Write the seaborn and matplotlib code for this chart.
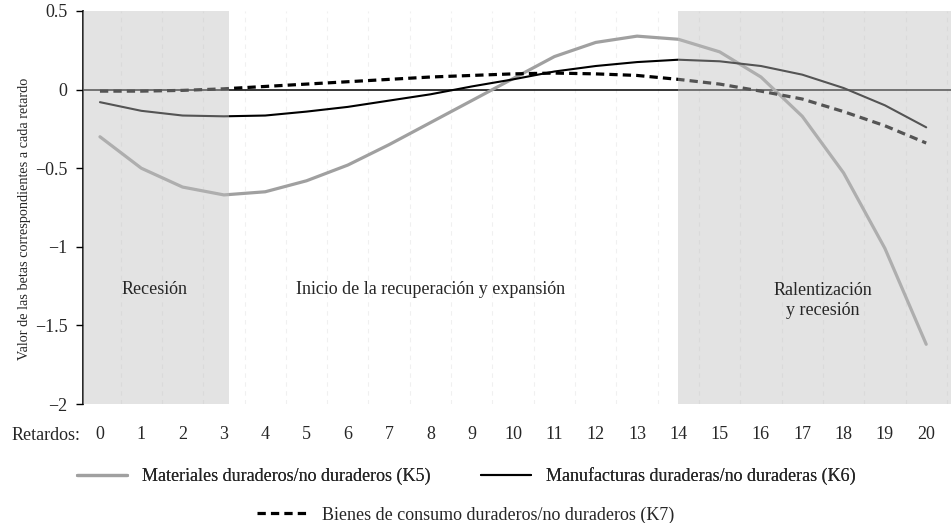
import numpy as np
import pandas as pd
import matplotlib
matplotlib.use("Agg")
import matplotlib.pyplot as plt
import seaborn as sns

# data
lags = list(range(21))
k5 = [-0.30, -0.50, -0.62, -0.67, -0.65, -0.58, -0.48, -0.35, -0.21, -0.07,
      0.07, 0.21, 0.30, 0.34, 0.32, 0.24, 0.08, -0.17, -0.53, -1.01, -1.62]
k6 = [-0.08, -0.135, -0.165, -0.17, -0.165, -0.14, -0.11, -0.07, -0.03, 0.02,
      0.065, 0.115, 0.15, 0.175, 0.19, 0.18, 0.15, 0.095, 0.01, -0.10, -0.24]
k7 = [-0.01, -0.01, -0.005, 0.005, 0.02, 0.035, 0.05, 0.065, 0.08, 0.09,
      0.10, 0.105, 0.10, 0.09, 0.065, 0.035, -0.01, -0.06, -0.14, -0.23, -0.34]
series_names = ["Materiales duraderos/no duraderos (K5)",
                "Manufacturas duraderas/no duraderas (K6)",
                "Bienes de consumo duraderos/no duraderos (K7)"]
y_ticks = [0.5, 0, -0.5, -1, -1.5, -2]
y_ticklabels = ["0.5", "0", "\u22120.5", "\u22121", "\u22121.5", "\u22122"]
phases = ["Recesión", "Inicio de la recuperación y expansión", "Ralentización\ny recesión"]

sns.set_style("white")
plt.rcParams["font.family"] = ["Liberation Serif", "DejaVu Serif"]
FS = 13

fig = plt.figure(figsize=(9.51, 5.23), dpi=100)
ax = fig.add_axes([0.0873, 0.2275, 0.9127, 0.7515])

xmin, xmax = -0.41, 20.6
ax.set_xlim(xmin, xmax)
ax.set_ylim(-2, 0.5)

# light dashed vertical grid between lags
for g in np.arange(0.5, 20.6, 1.0):
    ax.axvline(g, color="#f0f0f0", lw=0.8, ls=(0, (4, 4)), zorder=0)

ax.axhline(0, color="black", lw=1.1, zorder=1)

sns.lineplot(x=lags, y=k5, ax=ax, color="#a0a0a0", lw=2.3, label=series_names[0], zorder=3)
sns.lineplot(x=lags, y=k6, ax=ax, color="black", lw=1.5, label=series_names[1], zorder=3)
sns.lineplot(x=lags, y=k7, ax=ax, color="black", lw=2.3, label=series_names[2], zorder=3)
ax.lines[-1].set_dashes((2.6, 1.6))
handles = ax.get_lines()[-3:]
ax.get_legend().remove()

# phase shading drawn on top (translucent)
ax.axvspan(xmin, 3.12, color="#c0c0c0", alpha=0.44, lw=0, zorder=5)
ax.axvspan(14, xmax, color="#c0c0c0", alpha=0.44, lw=0, zorder=5)

ax.text(1.33, -1.27, phases[0], ha="center", va="center", fontsize=FS, zorder=6)
ax.text(8.0, -1.27, phases[1], ha="center", va="center", fontsize=FS, zorder=6)
ax.text(17.5, -1.34, phases[2], ha="center", va="center", fontsize=FS, zorder=6,
        linespacing=1.2)

ax.set_yticks(y_ticks)
ax.set_yticklabels(y_ticklabels, fontsize=FS)
ax.set_xticks(lags)
ax.set_xticklabels([str(l) for l in lags], fontsize=FS)
ax.tick_params(axis="x", length=0, pad=16)
ax.tick_params(axis="y", length=5, width=1, direction="out", color="black", pad=6, left=True)

for s in ["top", "right", "bottom"]:
    ax.spines[s].set_visible(False)
ax.spines["left"].set_color("black")
ax.spines["left"].set_linewidth(1.2)

ax.set_ylabel("Valor de las betas correspondientes a cada retardo", fontsize=10.3)
ax.yaxis.set_label_coords(-0.06, 0.47)
fig.text(0.012, 1 - 435 / 523, "Retardos:", va="center", ha="left", fontsize=FS)

leg1 = fig.legend(handles[:2], series_names[:2], loc="center", ncol=2,
                  bbox_to_anchor=(0.49, 1 - 476 / 523), frameon=False, fontsize=FS,
                  handlelength=2.8, columnspacing=2.8, handletextpad=0.8)
fig.add_artist(leg1)
fig.legend(handles[2:], series_names[2:], loc="center",
           bbox_to_anchor=(0.49, 1 - 515 / 523), frameon=False, fontsize=FS,
           handlelength=2.8, handletextpad=0.8)

fig.savefig("out.png", dpi=100)
